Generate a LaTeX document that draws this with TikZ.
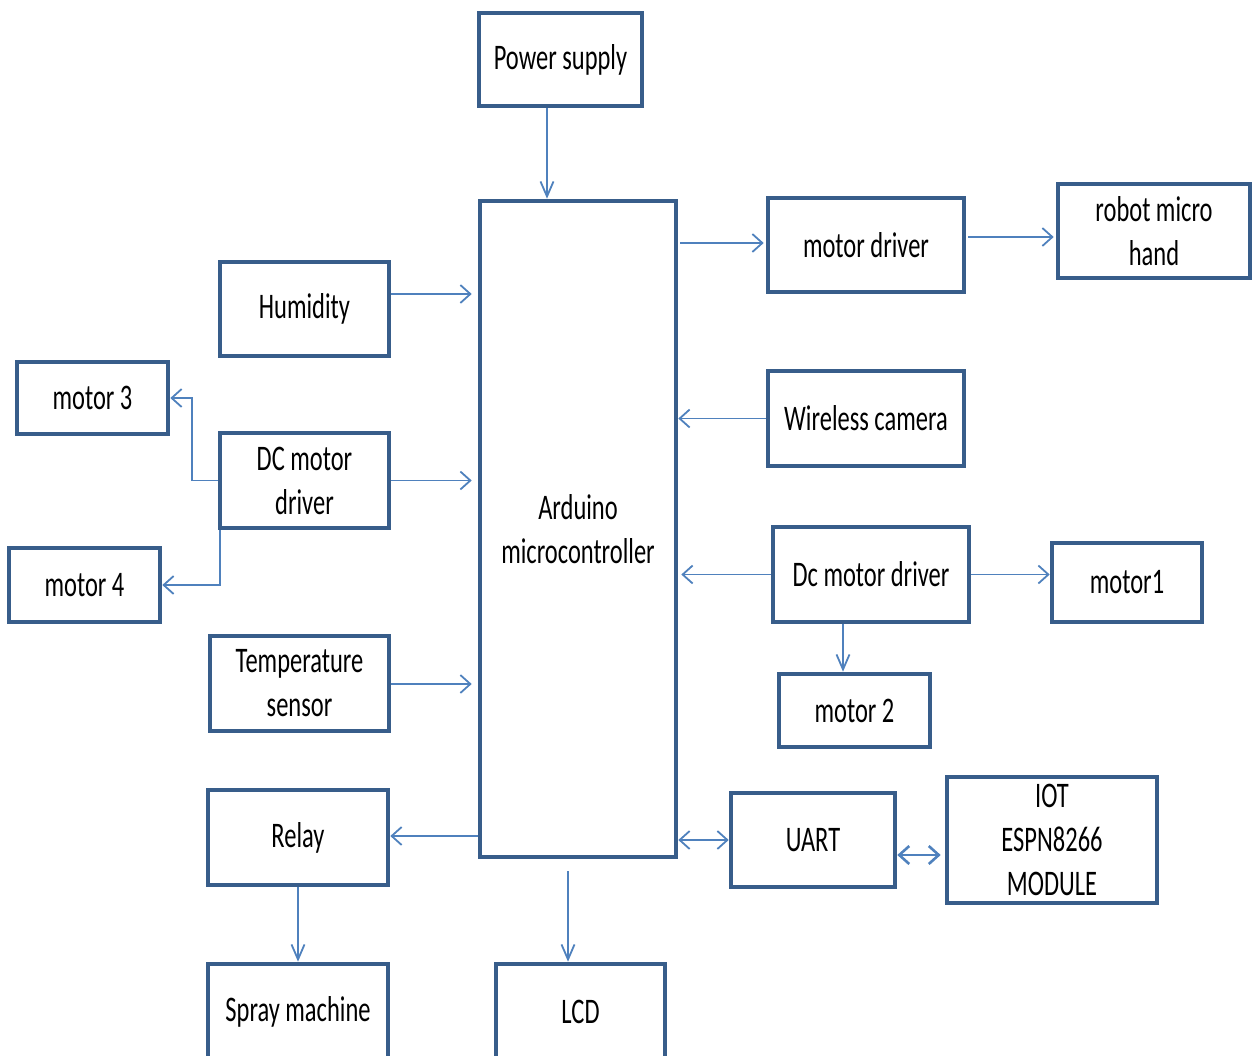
\documentclass[tikz,border=0pt]{standalone}
\usepackage{fontspec}
\setmainfont{Carlito}[FakeStretch=0.68]
\usetikzlibrary{arrows.meta,calc}
\definecolor{boxc}{HTML}{385D8A}
\definecolor{arrc}{HTML}{4F81BD}
\tikzset{
  blk/.style={draw=boxc, line width=2.3pt, fill=white, align=center, inner sep=0pt,
    font=\fontsize{18}{22}\selectfont},
  conn/.style={draw=arrc, line width=0.9pt},
  hA/.style={conn, -{Straight Barb[length=5pt,width=9pt]}},
  vA/.style={conn, -{Straight Barb[length=7.5pt,width=6.5pt]}},
  hdA/.style={conn, {Straight Barb[length=5pt,width=9pt]}-{Straight Barb[length=5pt,width=9pt]}}
}
\begin{document}
\begin{tikzpicture}[x=0.5pt,y=-0.5pt]
\useasboundingbox (0,0) rectangle (1252,1055);
\clip (0,0) rectangle (1252,1055);
\node[blk, minimum width=81.5pt, minimum height=46.5pt] (power) at (560.5,59.5) {Power supply};
\node[blk, minimum width=98pt, minimum height=328pt] (ard) at (578,529) {Arduino\\microcontroller};
\node[blk, minimum width=98pt, minimum height=47pt] (mdrv) at (866,245) {motor driver};
\node[blk, minimum width=96pt, minimum height=47pt] (robot) at (1154,231) {robot micro\\hand};
\node[blk, minimum width=84.5pt, minimum height=47pt] (hum) at (304.5,309) {Humidity};
\node[blk, minimum width=98pt, minimum height=47.5pt] (cam) at (866,418.5) {Wireless camera};
\node[blk, minimum width=75.5pt, minimum height=36pt] (m3) at (92.5,398) {motor 3};
\node[blk, minimum width=84.5pt, minimum height=47.5pt] (dcl) at (304.5,480.5) {DC motor\\driver};
\node[blk, minimum width=75.5pt, minimum height=37pt] (m4) at (84.5,585) {motor 4};
\node[blk, minimum width=98pt, minimum height=47.5pt] (dcr) at (871,574.5) {Dc motor driver};
\node[blk, minimum width=75pt, minimum height=39.5pt] (m1) at (1127,582.5) {motor1};
\node[blk, minimum width=75.5pt, minimum height=36.5pt] (m2) at (854.5,710.5) {motor 2};
\node[blk, minimum width=89.5pt, minimum height=47.5pt] (temp) at (299.5,683.5) {Temperature\\sensor};
\node[blk, minimum width=90pt, minimum height=47.5pt] (relay) at (298,837.5) {Relay};
\node[blk, minimum width=82pt, minimum height=47pt] (uart) at (813,840) {UART};
\node[blk, minimum width=105pt, minimum height=63pt] (iot) at (1052,840) {IOT\\ESPN8266\\MODULE};
\node[blk, minimum width=90pt, minimum height=48pt] (spray) at (298,1012) {Spray machine};
\node[blk, minimum width=84.5pt, minimum height=48pt] (lcd) at (580.5,1012) {LCD};
% connectors
\draw[vA] ([xshift=-6.75pt]power.south) -- ([xshift=-6.75pt]power.south |- ard.north);
\draw[hA, shorten <=1pt, shorten >=1pt] (ard.east |- 0,243) -- (mdrv.west |- 0,243);
\draw[hA, shorten <=1pt, shorten >=1pt] (mdrv.east |- 0,237) -- (robot.west |- 0,237);
\draw[hA, shorten >=3pt] (hum.east |- 0,294) -- (ard.west |- 0,294);
\draw[hA] (cam.west) -- (cam.west -| ard.east);
\draw[hA] (dcl.west) -- ++(-26,0) |- (m3.east);
\draw[hA] ([xshift=1pt]dcl.south west) |- (m4.east);
\draw[hA, shorten >=3pt] (dcl.east) -- (dcl.east -| ard.west);
\draw[hA, shorten >=1.5pt] (dcr.west) -- (dcr.west -| ard.east);
\draw[hA] (dcr.east) -- (dcr.east -| m1.west);
\draw[vA] ([xshift=-14pt]dcr.south) -- ([xshift=-14pt]dcr.south |- m2.north);
\draw[hA, shorten >=3pt] (temp.east |- 0,684) -- (ard.west |- 0,684);
\draw[hA] (ard.west |- 0,836) -- (relay.east |- 0,836);
\draw[vA] (relay.south) -- (spray.north);
\draw[vA, shorten <=6pt] ([xshift=-5pt]ard.south) -- ([xshift=-5pt]ard.south |- lcd.north);
\draw[hdA] (ard.east |- uart.west) -- (uart.west);
\draw[hdA, line width=1.3pt, shorten >=2pt] (uart.east |- 0,855) -- (iot.west |- 0,855);
\end{tikzpicture}
\end{document}
